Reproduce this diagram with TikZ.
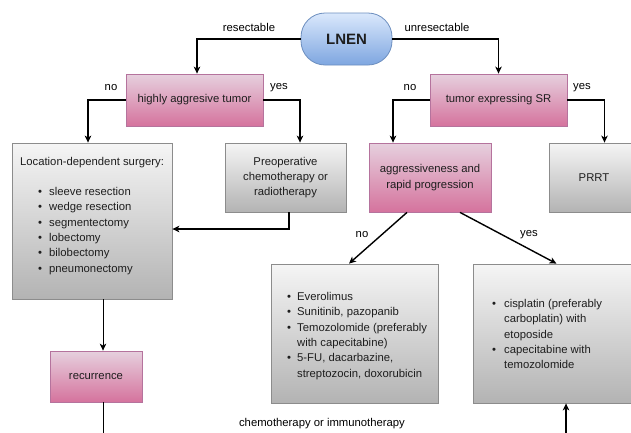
\documentclass[tikz,border=0pt]{standalone}
\usepackage{fontspec}
\setmainfont{Liberation Sans}
\usetikzlibrary{arrows.meta}
\definecolor{bluetop}{HTML}{DAE8FC}
\definecolor{bluebot}{HTML}{7EA6E0}
\definecolor{bluestroke}{HTML}{6C8EBF}
\definecolor{pinktop}{HTML}{E6D0DE}
\definecolor{pinkbot}{HTML}{D5739D}
\definecolor{pinkstroke}{HTML}{B5739D}
\definecolor{graytop}{HTML}{F5F5F5}
\definecolor{graybot}{HTML}{B3B3B3}
\definecolor{graystroke}{HTML}{8C8C8C}
\definecolor{txt}{HTML}{1E1E1E}
\newcommand\fsz{\fontsize{11.3}{15.4}\selectfont}
\tikzset{
  basebox/.style={inner sep=0pt, line width=0.8pt, font=\fsz, text=txt, align=center},
  bluebox/.style={basebox, draw=bluestroke, top color=bluetop, bottom color=bluebot},
  pinkbox/.style={basebox, draw=pinkstroke, top color=pinktop, bottom color=pinkbot},
  graybox/.style={basebox, draw=graystroke, top color=graytop, bottom color=graybot},
  txtnode/.style={inner sep=0pt, font=\fsz, text=txt, align=left},
  lbl/.style={inner sep=0pt, font=\fsz, text=black},
  conn/.style={line width=1.4pt, -{Stealth[length=7pt,width=6.5pt,inset=2pt]}},
  thinconn/.style={line width=0.9pt, -{Stealth[length=7pt,width=6.5pt,inset=2pt]}},
  thinline/.style={line width=0.9pt},
}
\begin{document}
\begin{tikzpicture}[x=1pt,y=-1pt]
\useasboundingbox (0,0) rectangle (631,432);
\clip (0,0) rectangle (631,432);
\fill[white] (0,0) rectangle (631,432);

% nodes
\node[bluebox, minimum width=91pt, minimum height=52pt, rounded corners=24pt,
      font=\fontsize{15}{18}\selectfont\bfseries] (lnen) at (346.5,39) {LNEN};
\node[pinkbox, minimum width=137pt, minimum height=52pt] (aggr) at (194.5,100) {highly aggresive tumor};
\node[pinkbox, minimum width=137pt, minimum height=52pt] (sr) at (498.5,100) {tumor expressing SR};

\node[graybox, minimum width=160pt, minimum height=156pt] (surg) at (92,221) {};
\node[graybox, minimum width=121pt, minimum height=69pt] (preop) at (285.5,177.5) {Preoperative\\chemotherapy or\\radiotherapy};
\node[pinkbox, minimum width=122pt, minimum height=69pt] (agg) at (430,177.5) {aggressiveness and\\rapid progression};
\node[graybox, minimum width=90pt, minimum height=69pt] (prrt) at (594,177.5) {PRRT};

\node[graybox, minimum width=167pt, minimum height=139pt] (mid) at (354.5,333.5) {};
\node[graybox, minimum width=167pt, minimum height=139pt] (rgt) at (556.5,333.5) {};
\node[pinkbox, minimum width=92pt, minimum height=51pt] (rec) at (96,376.5) {recurrence};

% texts inside boxes
\node[txtnode, align=center] (surgT) at (92,163) {Location-dependent surgery:};
\node[txtnode, anchor=north west] (surgL) at (38,184.3) {%
\begin{tabular}{@{}c@{\hspace{7pt}}l@{}}
\textbullet & sleeve resection\\
\textbullet & wedge resection\\
\textbullet & segmentectomy\\
\textbullet & lobectomy\\
\textbullet & bilobectomy\\
\textbullet & pneumonectomy
\end{tabular}};
\node[txtnode, anchor=north west] (midL) at (287,289.3) {%
\begin{tabular}{@{}c@{\hspace{6pt}}l@{}}
\textbullet & Everolimus\\
\textbullet & Sunitinib, pazopanib\\
\textbullet & Temozolomide (preferably\\
 & with capecitabine)\\
\textbullet & 5-FU, dacarbazine,\\
 & streptozocin, doxorubicin
\end{tabular}};
\node[txtnode, anchor=north west] (rgtL) at (492,296.3) {%
\begin{tabular}{@{}c@{\hspace{8pt}}l@{}}
\textbullet & cisplatin (preferably\\
 & carboplatin) with\\
 & etoposide\\
\textbullet & capecitabine with\\
 & temozolomide
\end{tabular}};

% labels
\node[lbl] (lres) at (249,27.5) {resectable};
\node[lbl] (lunres) at (437,27.5) {unresectable};
\node[lbl] (lno1) at (111,88) {no};
\node[lbl] (lyes1) at (279,88) {yes};
\node[lbl] (lno2) at (410,88) {no};
\node[lbl] (lyes2) at (582,88) {yes};
\node[lbl] (lno3) at (362,235) {no};
\node[lbl] (lyes3) at (529,235) {yes};
\node[lbl] (lchemo) at (322,424) {chemotherapy or immunotherapy};

% free ends
\coordinate (recEnd) at (103,440);
\coordinate (rgtStart) at (566,440);

% connectors
\draw[conn] (lnen.west) -| ([xshift=2.5pt]aggr.north);
\draw[conn] (lnen.east) -| (sr.north);
\draw[conn] (aggr.west) -| ([xshift=-4pt]surg.north);
\draw[conn] (aggr.east) -| ([xshift=14.5pt]preop.north);
\draw[conn] (sr.west) -| ([xshift=-37pt]agg.north);
\draw[conn] (sr.east) -| ([xshift=10.5pt]prrt.north);
\draw[conn] ([xshift=3.5pt]preop.south) |- ([yshift=-8pt]surg.east);
\draw[conn] ([xshift=-23pt]agg.south) -- ([xshift=-5.5pt]mid.north);
\draw[conn] ([xshift=30pt]agg.south) -- (rgt.north);
\draw[thinconn] ([xshift=11pt]surg.south) -- ([xshift=7pt]rec.north);
\draw[thinline] ([xshift=7pt]rec.south) -- (recEnd);
\draw[conn] (rgtStart) -- ([xshift=9.5pt]rgt.south);
\end{tikzpicture}
\end{document}
